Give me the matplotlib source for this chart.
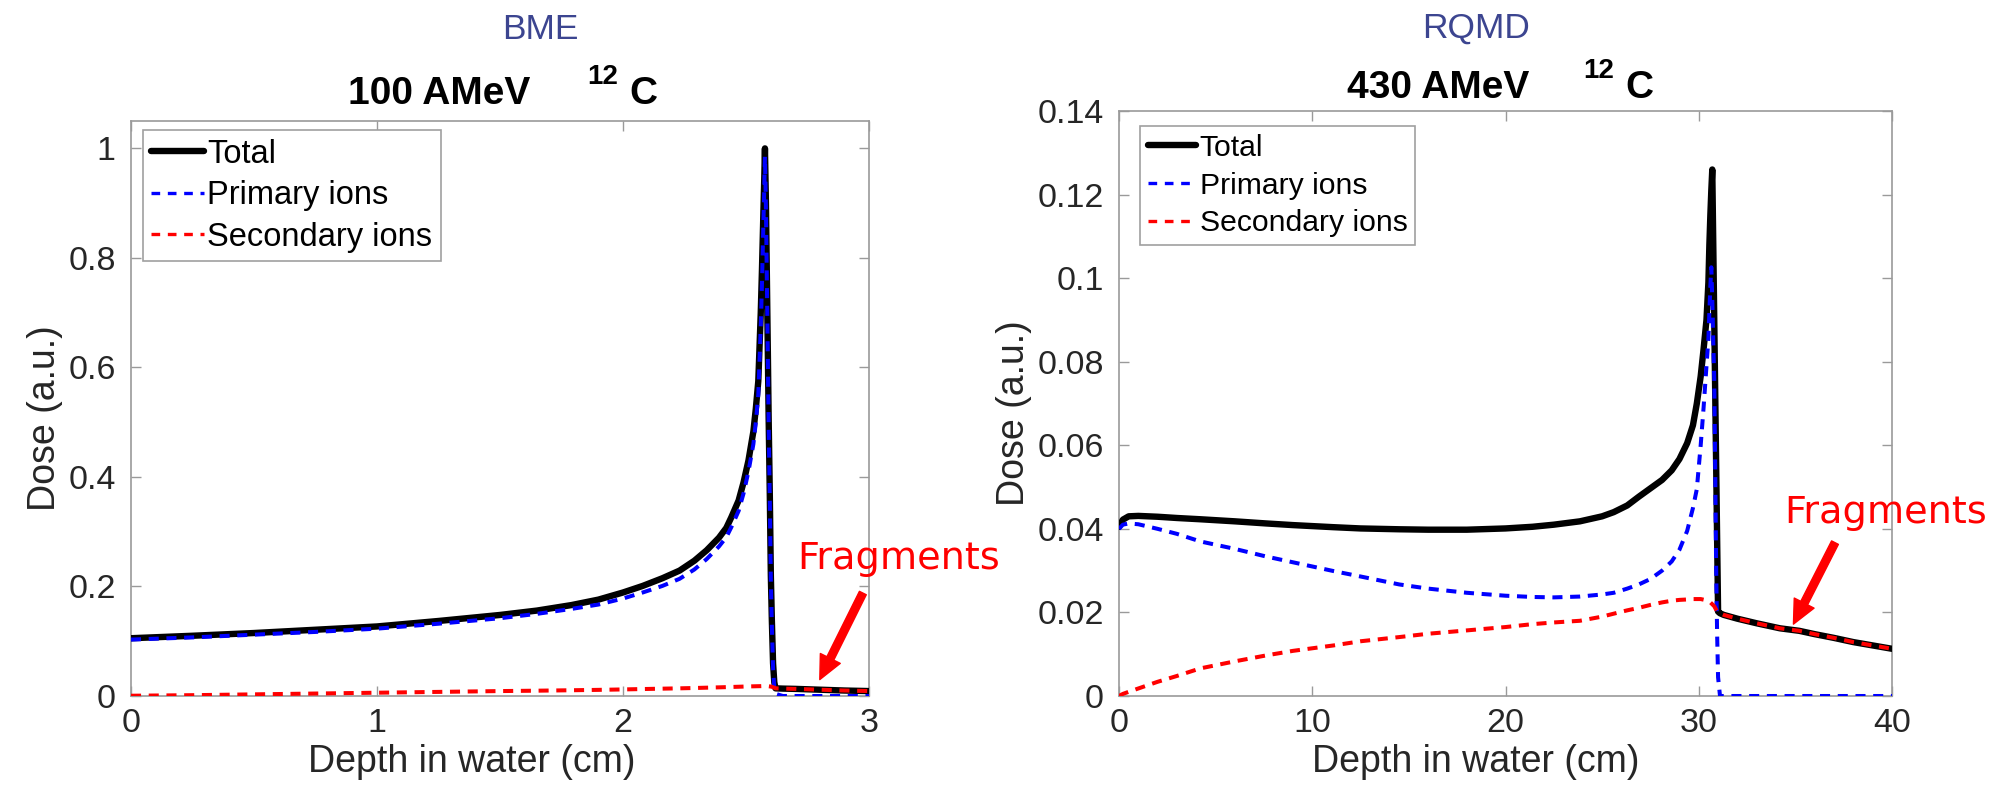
import matplotlib
matplotlib.use("Agg")
import matplotlib.pyplot as plt
from matplotlib.ticker import FixedLocator, FixedFormatter

# ---------------- data: BME, 100 AMeV 12C ----------------
bme_x = [0, 0.25, 0.5, 0.75, 1.0, 1.25, 1.5, 1.65, 1.79, 1.9, 2.0, 2.08, 2.16, 2.23, 2.29,
         2.34, 2.39, 2.42, 2.44, 2.47, 2.49, 2.51, 2.53, 2.54, 2.55, 2.56, 2.565, 2.57, 2.574,
         2.577, 2.581, 2.585, 2.589, 2.592, 2.597, 2.601, 2.605, 2.61, 2.615, 2.62, 2.65, 2.7,
         2.8, 2.9, 3.0]
bme_total = [0.1055, 0.110, 0.115, 0.121, 0.127, 0.137, 0.148, 0.156, 0.166, 0.176, 0.189,
             0.201, 0.215, 0.229, 0.247, 0.266, 0.289, 0.307, 0.326, 0.357, 0.39, 0.43, 0.483,
             0.525, 0.575, 0.70, 0.78, 0.87, 0.94, 1.0, 0.90, 0.76, 0.62, 0.51, 0.36, 0.22,
             0.14, 0.06, 0.025, 0.014, 0.0135, 0.013, 0.0115, 0.010, 0.009]
bme_primary = [0.103, 0.107, 0.112, 0.117, 0.123, 0.132, 0.142, 0.150, 0.159, 0.167, 0.178,
               0.189, 0.201, 0.214, 0.231, 0.250, 0.273, 0.290, 0.308, 0.338, 0.370, 0.41,
               0.46, 0.50, 0.55, 0.675, 0.755, 0.85, 0.92, 0.985, 0.89, 0.75, 0.61, 0.50, 0.35,
               0.21, 0.13, 0.05, 0.015, 0.004, 0.0, 0.0, 0.0, 0.0, 0.0]
bme_secondary = [0.0005, 0.0015, 0.003, 0.0045, 0.006, 0.0075, 0.009, 0.0097, 0.0105, 0.0112,
                 0.012, 0.0127, 0.0134, 0.014, 0.0146, 0.0152, 0.0158, 0.0162, 0.0165, 0.0169,
                 0.0172, 0.0175, 0.0177, 0.0178, 0.0179, 0.018, 0.0181, 0.0181, 0.0182, 0.0182,
                 0.0182, 0.0181, 0.018, 0.0178, 0.0175, 0.0172, 0.0168, 0.016, 0.015, 0.014,
                 0.0135, 0.013, 0.0115, 0.010, 0.009]

# ---------------- data: RQMD, 430 AMeV 12C ----------------
rqmd_total_x = [0, 0.2, 0.5, 1, 2, 3, 4.2, 6, 7.6, 9, 11.1, 12.5, 14.5, 16, 18, 20, 21.4, 22.5,
                23.85, 25, 25.6, 26.3, 26.9, 27.5, 28.1, 28.6, 29.0, 29.4, 29.7, 29.9, 30.1,
                30.25, 30.4, 30.5, 30.55, 30.6, 30.65, 30.7, 31.0, 31.1, 31.3, 32, 33, 34.2,
                35.2, 36, 37, 38, 39, 40]
rqmd_total = [0.0405, 0.0422, 0.0430, 0.0431, 0.0429, 0.0426, 0.0423, 0.0418, 0.0413, 0.0409,
              0.0404, 0.0401, 0.0399, 0.0398, 0.0398, 0.0401, 0.0405, 0.0410, 0.0418, 0.0430,
              0.0440, 0.0456, 0.0477, 0.0497, 0.0517, 0.0540, 0.0567, 0.0605, 0.0648, 0.0700,
              0.0765, 0.0830, 0.0900, 0.0990, 0.1080, 0.1150, 0.1210, 0.1260, 0.0202, 0.0198,
              0.0194, 0.0185, 0.0174, 0.0162, 0.0156, 0.0148, 0.0139, 0.0129, 0.0121, 0.0113]
rqmd_primary_x = [0, 0.2, 0.5, 1, 2, 3, 4.2, 6, 7.6, 9, 11.1, 12.5, 14.5, 16, 18, 20, 21.4,
                  22.5, 23.85, 25, 25.6, 26.3, 26.9, 27.5, 28.1, 28.6, 29.0, 29.4, 29.7, 29.9,
                  30.1, 30.25, 30.4, 30.5, 30.55, 30.6, 30.65, 30.7, 30.75, 30.8, 30.85, 30.9,
                  30.95, 31.0, 31.1, 31.3, 35, 40]
rqmd_primary = [0.0400, 0.0410, 0.0413, 0.0411, 0.0400, 0.0388, 0.0370, 0.0352, 0.0334, 0.0320,
                0.0299, 0.0286, 0.0267, 0.0257, 0.0247, 0.0240, 0.0237, 0.0236, 0.0238, 0.0243,
                0.0247, 0.0257, 0.0267, 0.0280, 0.0300, 0.0322, 0.0350, 0.0395, 0.0450, 0.0495,
                0.0600, 0.0690, 0.0790, 0.0855, 0.0920, 0.0980, 0.1026, 0.0950, 0.0850, 0.0760,
                0.0550, 0.0310, 0.0150, 0.0045, 0.0, 0.0, 0.0, 0.0]
rqmd_secondary_x = [0, 0.2, 0.5, 1, 2, 3, 4.2, 6, 7.6, 9, 11.1, 12.5, 14.5, 16, 18, 20, 21.4,
                    22.5, 23.85, 25, 25.6, 26.3, 26.9, 27.5, 28.1, 28.6, 29.0, 29.4, 29.7, 30.1,
                    30.4, 30.6, 30.8, 30.95, 31.0, 31.1, 31.3, 32, 33, 34.2, 35.2, 36, 37, 38,
                    39, 40]
rqmd_secondary = [0.0, 0.0005, 0.0010, 0.0018, 0.0034, 0.0048, 0.0066, 0.0083, 0.0097, 0.0108,
                  0.0121, 0.0131, 0.0141, 0.0149, 0.0157, 0.0165, 0.0172, 0.0176, 0.0180, 0.0190,
                  0.0197, 0.0205, 0.0211, 0.0218, 0.0224, 0.0228, 0.0230, 0.0231, 0.0232, 0.0232,
                  0.0229, 0.0224, 0.0215, 0.0202, 0.0200, 0.0198, 0.0194, 0.0185, 0.0174, 0.0162,
                  0.0156, 0.0148, 0.0139, 0.0129, 0.0121, 0.0113]

series_labels = ["Total", "Primary ions", "Secondary ions"]
bme_xticks = [0, 1, 2, 3]
bme_yticks = [0, 0.2, 0.4, 0.6, 0.8, 1.0]
bme_yticklabels = ["0", "0.2", "0.4", "0.6", "0.8", "1"]
rqmd_xticks = [0, 10, 20, 30, 40]
rqmd_yticks = [0, 0.02, 0.04, 0.06, 0.08, 0.10, 0.12, 0.14]
rqmd_yticklabels = ["0", "0.02", "0.04", "0.06", "0.08", "0.1", "0.12", "0.14"]

# ---------------- figure ----------------
FONT = ["Liberation Sans", "DejaVu Sans"]
plt.rcParams["font.family"] = FONT
TXT = "#262626"
SPINE = "#9a9a9a"
W, H = 1998, 795
fig = plt.figure(figsize=(W / 100, H / 100), dpi=100)


def px_axes(x0, y0, x1, y1):
    return fig.add_axes([x0 / W, 1 - y1 / H, (x1 - x0) / W, (y1 - y0) / H])


ax1 = px_axes(131, 121, 869, 696)
ax2 = px_axes(1119, 111, 1892, 696)


def draw(ax, xt, yt, xp, yp, xs, ys, xlim, ylim, xticks, yticks, ytl, leg_anchor, leg_fs):
    ax.plot(xt, yt, color="black", lw=4.6, label=series_labels[0], solid_capstyle="round",
            solid_joinstyle="round", zorder=3)
    lp, = ax.plot(xp, yp, color="#0000ff", lw=2.9, label=series_labels[1], zorder=4)
    lp.set_dashes([2.5, 1.9])
    ls, = ax.plot(xs, ys, color="#ff0000", lw=2.9, label=series_labels[2], zorder=5)
    ls.set_dashes([2.5, 1.9])
    ax.set_xlim(*xlim)
    ax.set_ylim(*ylim)
    ax.xaxis.set_major_locator(FixedLocator(xticks))
    ax.yaxis.set_major_locator(FixedLocator(yticks))
    ax.yaxis.set_major_formatter(FixedFormatter(ytl))
    ax.tick_params(direction="in", length=7, width=1, color=SPINE, labelsize=24.5,
                   labelcolor=TXT, top=True, right=True)
    ax.tick_params(axis="x", pad=9)
    ax.tick_params(axis="y", pad=11)
    for s in ax.spines.values():
        s.set_color(SPINE)
        s.set_linewidth(1.2)
    ax.set_xlabel("Depth in water (cm)", fontsize=27, color=TXT, labelpad=3)
    ax.set_ylabel("Dose (a.u.)", fontsize=27, color=TXT, labelpad=4)
    ax.xaxis.label.set_x(0.462)
    ax.yaxis.label.set_y(0.483)
    leg = ax.legend(loc="upper left", bbox_to_anchor=leg_anchor, borderaxespad=0,
                    fontsize=leg_fs, frameon=True, fancybox=False, framealpha=1,
                    edgecolor="#a0a0a0", handlelength=1.6, handletextpad=0.12,
                    labelspacing=0.32, borderpad=0.26)
    leg.get_frame().set_linewidth(1.2)
    leg.get_lines()[0].set_linewidth(4.6)
    for ln in leg.get_lines()[1:]:
        ln.set_linewidth(2.4)
        ln.set_dashes([2.6, 2.3])
    return leg


draw(ax1, bme_x, bme_total, bme_x, bme_primary, bme_x, bme_secondary,
     (0, 3), (0, 1.05), bme_xticks, bme_yticks, bme_yticklabels, (0.016, 0.984), 23.5)
draw(ax2, rqmd_total_x, rqmd_total, rqmd_primary_x, rqmd_primary, rqmd_secondary_x,
     rqmd_secondary, (0, 40), (0, 0.14), rqmd_xticks, rqmd_yticks, rqmd_yticklabels,
     (0.027, 0.974), 21.7)

# annotations "Fragments"
arrow_kw = dict(facecolor="#ff0000", edgecolor="#ff0000", width=5.5, headwidth=16,
                headlength=17, shrink=0)
ax1.annotate("", xy=(2.80, 0.03), xytext=(2.975, 0.188), arrowprops=arrow_kw,
             annotation_clip=False, zorder=6)
ax1.text(2.71, 0.232, "Fragments", color="#ff0000", fontsize=27.5,
         family=["DejaVu Sans"], ha="left", va="baseline", clip_on=False)
ax2.annotate("", xy=(34.9, 0.0172), xytext=(37.05, 0.0367), arrowprops=arrow_kw,
             annotation_clip=False, zorder=6)
ax2.text(34.45, 0.0415, "Fragments", color="#ff0000", fontsize=27.5,
         family=["DejaVu Sans"], ha="left", va="baseline", clip_on=False)


# titles
def title(cx, base_y, main, end_off, sup_off, c_off, sup_base):
    fig.text((cx + end_off) / W, 1 - base_y / H, main, ha="right", va="baseline",
             fontsize=28, fontweight="bold", color="black")
    fig.text((cx + sup_off) / W, 1 - sup_base / H, "12", ha="left", va="baseline",
             fontsize=20, fontweight="bold", color="black")
    fig.text((cx + c_off) / W, 1 - base_y / H, "C", ha="left", va="baseline",
             fontsize=28, fontweight="bold", color="black")


title(500, 104, "100 AMeV", 30, 87, 129, 84)
title(1505.5, 98, "430 AMeV", 24, 78, 120, 78)

fig.text(540 / W, 1 - 39 / H, "BME", ha="center", va="baseline", fontsize=25.5,
         color="#3c4590")
fig.text(1476 / W, 1 - 38 / H, "RQMD", ha="center", va="baseline", fontsize=25.5,
         color="#3c4590")

fig.savefig("out.png", dpi=100)
